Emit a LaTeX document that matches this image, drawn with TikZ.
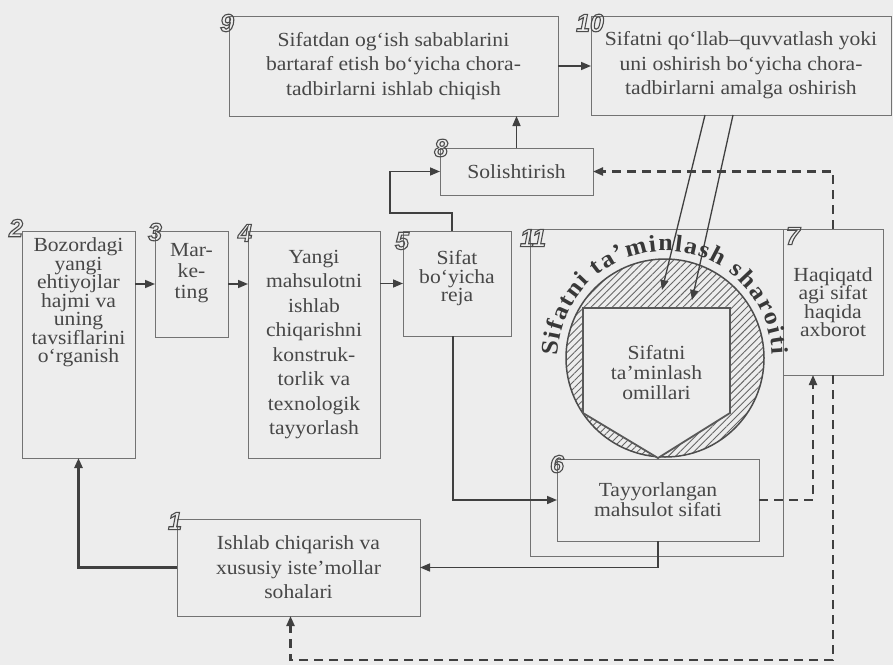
\documentclass[tikz,border=0pt]{standalone}
\usepackage{fontspec}
\setmainfont{Liberation Serif}[FakeStretch=1.08]
\newfontfamily\numfont{Liberation Sans}
\usetikzlibrary{arrows.meta,patterns.meta,decorations.text,calc}

% outlined digits for the step numbers
\newcommand{\hollow}[1]{\special{pdf:literal direct 1 Tr 1.1 w}#1\special{pdf:literal direct 0 Tr}}

\begin{document}
\begin{tikzpicture}[x=1pt,y=1pt,
  box/.style={draw=black!55,line width=1pt,inner sep=0pt,outer sep=0pt,align=center,text=black!72,font=\fontsize{20}{24.5}\selectfont},
  tight/.style={font=\fontsize{20}{18.5}\selectfont},
  num/.style={text=black!70,font=\numfont\fontsize{25}{25}\selectfont\bfseries\itshape,inner sep=0pt},
  arr/.style={draw=black!75,line width=1.6pt,-{Triangle[length=10pt,width=8pt]}},
  darr/.style={arr,line width=2.2pt,dash pattern=on 9pt off 6pt}]
  \useasboundingbox (0,0) rectangle (893,-665);
  \fill[black!7] (0,0) rectangle (893,-665);

  % circle with the hatched ring
  \coordinate (cc) at (665,-358);
  \draw[line width=1.5pt,draw=black!70,pattern={Lines[angle=45,distance=5pt,line width=0.9pt]},pattern color=black!60] (cc) circle[radius=99];
  \draw[line width=1.8pt,draw=black!65,fill=black!7] (583,-413) -- (583,-308) -- (730,-308) -- (730,-413) -- (658,-458) -- cycle;
  \node[text=black!72,align=center,font=\fontsize{20}{20}\selectfont] (omil) at (656.5,-373) {Sifatni\\ta'minlash\\omillari};

  \node[box,minimum width=329,minimum height=100] (b9) at (393.5,-66) {Sifatdan og‘ish sabablarini\\bartaraf etish bo‘yicha chora-\\tadbirlarni ishlab chiqish};
  \node[box,minimum width=300,minimum height=99] (b10) at (741,-65.5) {Sifatni qo‘llab–quvvatlash yoki\\uni oshirish bo‘yicha chora-\\tadbirlarni amalga oshirish};
  \node[box,minimum width=153,minimum height=47] (b8) at (516.5,-171.5) {Solishtirish};
  \node[box,tight,minimum width=113,minimum height=227] (b2) at (78.5,-344.5) {Bozordagi\\yangi\\ehtiyojlar\\hajmi va\\uning\\tavsiflarini\\o‘rganish\\[70pt]\mbox{}};
  \node[box,font=\fontsize{20}{21}\selectfont,minimum width=73,minimum height=106] (b3) at (191.5,-284) {Mar-\\ke-\\ting\\[5pt]\mbox{}};
  \node[box,minimum width=132,minimum height=227] (b4) at (314,-344.5) {Yangi\\mahsulotni\\ishlab\\chiqarishni\\konstruk-\\torlik va\\texnologik\\tayyorlash};
  \node[box,tight,minimum width=108,minimum height=105] (b5) at (457,-283.5) {Sifat\\bo‘yicha\\reja\\[-4pt]\mbox{}};
  \node[box,minimum width=253,minimum height=327] (b11) at (656.5,-392.5) {};
  \node[box,tight,minimum width=100,minimum height=146] (b7) at (833,-302) {Haqiqatd\\agi sifat\\haqida\\axborot};
  \node[box,font=\fontsize{20}{20}\selectfont,minimum width=202,minimum height=82] (b6) at (658,-500) {Tayyorlangan\\mahsulot sifati};
  \node[box,minimum width=243,minimum height=97] (b1) at (298.5,-567.5) {Ishlab chiqarish va\\xususiy iste’mollar\\sohalari};

  % step numbers
  \node[num] (n9) at (227,-23) {\hollow{9}};
  \node[num] (n10) at (590,-23) {\hollow{10}};
  \node[num] (n8) at (441,-148) {\hollow{8}};
  \node[num] (n2) at (16,-228) {\hollow{2}};
  \node[num] (n3) at (155,-232) {\hollow{3}};
  \node[num] (n4) at (245,-233) {\hollow{4}};
  \node[num] (n5) at (402,-241) {\hollow{5}};
  \node[num] (n11) at (533,-238) {\hollow{11}};
  \node[num] (n7) at (793,-236) {\hollow{7}};
  \node[num] (n6) at (557,-464) {\hollow{6}};
  \node[num] (n1) at (175,-521) {\hollow{1}};

  % connectors
  \draw[arr] (b9.east) -- (b10.west |- b9.east);
  \draw[arr] (b8.north) -- (b8.north |- b9.south);
  \draw[arr] ([xshift=-5pt]b5.north) -- ++(0,18) -| ([xshift=-50pt]b8.west) -- (b8.west);
  \draw[darr] (b7.north) |- (b8.east);
  \draw[arr] (b2.east |- b3.west) -- (b3.west);
  \draw[arr] (b3.east) -- (b3.east -| b4.west);
  \draw[arr] (b4.east |- b5.west) -- (b5.west);
  \draw[arr] ([xshift=-4pt]b5.south) |- (b6.west);
  \draw[arr] (b6.south) |- (b1.east);
  \draw[arr,line width=3pt] (b1.west) -| (b2.south);
  \draw[darr] (b6.east) -| ([xshift=-20pt]b7.south);
  \draw[darr] (b7.south) -- ++(0,-285) -| ([xshift=-8pt]b1.south);
  \coordinate (t1) at (662,-290);
  \coordinate (t2) at (692,-300);
  \draw[arr,line width=1.3pt] ([xshift=-36pt]b10.south) -- (t1);
  \draw[arr,line width=1.3pt] ([xshift=-8pt]b10.south) -- (t2);

  % title bent round the circle
  \path[decorate,decoration={text along path,text align={fit to path},raise=3pt,text color=black!78,
    text={|\fontsize{24}{24}\selectfont\bfseries|Sifatni ta'minlash sharoiti}}]
    (cc) ++(179:104) arc[start angle=179,end angle=2,radius=104];
\end{tikzpicture}
\end{document}
